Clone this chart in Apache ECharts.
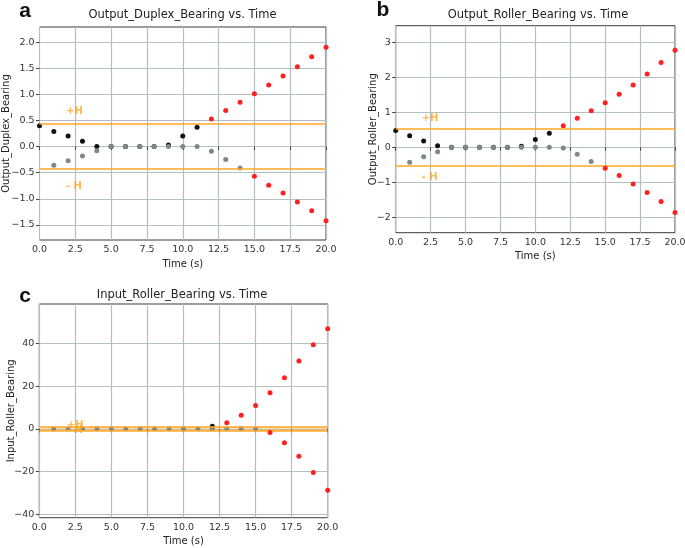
<!DOCTYPE html>
<html><head><meta charset="utf-8">
<script src="https://cdn.jsdelivr.net/npm/echarts@6/dist/echarts.min.js"></script>
<style>html,body{margin:0;padding:0;background:#fff}#c{width:685px;height:548px}</style>
</head><body><div id="c"></div>
<script>
// ---- tick labels ----
const timeTicks = [0, 2.5, 5, 7.5, 10, 12.5, 15, 17.5, 20];
const aTicks = [-1.5, -1, -0.5, 0, 0.5, 1, 1.5, 2];
const bTicks = [-2, -1, 0, 1, 2, 3];
const cTicks = [-40, -20, 0, 20, 40];

// ---- panel a: Output_Duplex_Bearing ----
const aBlack = [[0,0.40],[1,0.29],[2,0.20],[3,0.10],[4,0.00],[5,0],[6,0],[7,0],[8,0],[9,0.03],[10,0.20],[11,0.37]];
const aGray  = [[1,-0.36],[2,-0.27],[3,-0.18],[4,-0.08],[5,0],[6,0],[7,0],[8,0],[9,0],[10,0],[11,0],[12,-0.09],[13,-0.25],[14,-0.41]];
const aRed   = [[12,0.53],[13,0.69],[14,0.85],[15,1.01],[16,1.18],[17,1.35],[18,1.53],[19,1.72],[20,1.90],
                [15,-0.57],[16,-0.74],[17,-0.89],[18,-1.06],[19,-1.23],[20,-1.42]];
const aH = 0.43;
const aLabels = [[2.45, 0.67, '+H'], [2.4, -0.77, '- H']];

// ---- panel b: Output_Roller_Bearing ----
const bBlack = [[0,0.48],[1,0.33],[2,0.18],[3,0.04],[4,0],[5,0],[6,0],[7,0],[8,0],[9,0.03],[10,0.22],[11,0.40]];
const bGray  = [[1,-0.43],[2,-0.27],[3,-0.13],[4,0],[5,0],[6,0],[7,0],[8,0],[9,0],[10,0],[11,0],[12,-0.02],[13,-0.20],[14,-0.41]];
const bRed   = [[12,0.61],[13,0.83],[14,1.04],[15,1.27],[16,1.51],[17,1.78],[18,2.09],[19,2.42],[20,2.77],
                [15,-0.60],[16,-0.81],[17,-1.05],[18,-1.29],[19,-1.55],[20,-1.86]];
const bH = 0.52;
const bLabels = [[2.46, 0.81, '+H'], [2.42, -0.86, '- H']];

// ---- panel c: Input_Roller_Bearing ----
const cBlack = [[12,1.2]];
const cGray  = [[1,0],[2,0],[3,0],[4,0],[5,0],[6,0],[7,0],[8,0],[9,0],[10,0],[11,0],[12,0],[13,0],[14,0],[15,0]];
const cRed   = [[13,2.8],[14,6.3],[15,10.9],[16,16.9],[17,23.9],[18,31.7],[19,39.3],[20,46.8],
                [16,-1.7],[17,-6.5],[18,-12.9],[19,-20.4],[20,-28.7]];
const cH = 1.0;
const cLabels = [[2.5, 1.7, '+H'], [2.45, -0.6, '- H']];

const panels = [
  {title:'Output_Duplex_Bearing vs. Time', letter:'a', yName:'Output_Duplex_Bearing',
   grid:{left:39.5, top:27, width:286.5, height:213}, ymin:-1.79, ymax:2.29, ticks:aTicks, dec:1,
   black:aBlack, gray:aGray, red:aRed, H:aH, labels:aLabels, band:false, nameGap:28,
   titlePos:[182.5,15], letterPos:[25,11]},
  {title:'Output_Roller_Bearing vs. Time', letter:'b', yName:'Output_Roller_Bearing',
   grid:{left:395.7, top:25.7, width:279.3, height:207}, ymin:-2.44, ymax:3.47, ticks:bTicks, dec:0,
   black:bBlack, gray:bGray, red:bRed, H:bH, labels:bLabels, band:false, nameGap:17.5,
   titlePos:[538,15], letterPos:[383,10]},
  {title:'Input_Roller_Bearing vs. Time', letter:'c', yName:'Input_Roller_Bearing',
   grid:{left:39.3, top:304, width:288.4, height:213.7}, ymin:-41.6, ymax:58.4, ticks:cTicks, dec:0,
   black:cBlack, gray:cGray, red:cRed, H:cH, labels:cLabels, band:true, nameGap:23,
   titlePos:[182,295], letterPos:[25,296]}
];

const FONT = 'DejaVu Sans';
const ORANGE = '#ffa726';
const fmt = (v, d) => { const s = Math.abs(v).toFixed(d); return (v < 0 ? '\u2212' : '') + s; };

const grids = [], xAxes = [], yAxes = [], series = [], graphics = [];
panels.forEach((p, i) => {
  grids.push(Object.assign({show:true, borderColor:'#3a3a3a', borderWidth:1, containLabel:false, outerBoundsMode:'none'}, p.grid));
  xAxes.push({
    type:'value', gridIndex:i, min:0, max:20, interval:2.5,
    name:'Time (s)', nameLocation:'middle', nameGap:19, nameMoveOverlap:false,
    nameTextStyle:{fontFamily:FONT, fontSize:10, color:'#222'},
    axisLine:{show:false}, axisTick:{show:true, length:3.5, lineStyle:{color:'#444'}},
    axisLabel:{fontFamily:FONT, fontSize:9.5, color:'#333', margin:5, formatter:v => fmt(v,1)},
    splitLine:{show:true, lineStyle:{color:'#b3bfc1', width:1.2}}
  });
  yAxes.push({
    type:'value', gridIndex:i, min:p.ymin, max:p.ymax,
    name:p.yName, nameLocation:'middle', nameRotate:90, nameGap:p.nameGap, nameMoveOverlap:false,
    nameTextStyle:{fontFamily:FONT, fontSize:10, color:'#222'},
    axisLine:{show:false},
    axisTick:{show:true, length:3.5, customValues:p.ticks, lineStyle:{color:'#444'}},
    axisLabel:{fontFamily:FONT, fontSize:9.5, color:'#333', margin:5, customValues:p.ticks, formatter:v => fmt(v,p.dec)},
    splitLine:{show:true, lineStyle:{color:'#b3bfc1', width:1.2}}
  });
  const markLine = {silent:true, symbol:'none', label:{show:false}, animation:false,
    lineStyle:{color:ORANGE, width:1.6, type:'solid', opacity:1},
    data:[{yAxis:p.H}, {yAxis:-p.H}]};
  series.push({type:'scatter', xAxisIndex:i, yAxisIndex:i, data:p.black, symbolSize:5,
    itemStyle:{color:'#111', opacity:1}, markLine: markLine, z:3,
    markArea: p.band ? {silent:true, itemStyle:{color:'rgba(255,167,38,0.35)'}, data:[[{yAxis:-p.H},{yAxis:p.H}]]} : undefined});
  series.push({type:'scatter', xAxisIndex:i, yAxisIndex:i, data:p.gray, symbolSize:5,
    itemStyle:{color:'#7c8a86', opacity:1}, z:4});
  series.push({type:'scatter', xAxisIndex:i, yAxisIndex:i, data:p.red, symbolSize:5,
    itemStyle:{color:'#ff2020', opacity:1}, z:5});
  series.push({type:'scatter', xAxisIndex:i, yAxisIndex:i, data:p.labels, symbolSize:0, z:6, clip:false,
    label:{show:true, position:'inside', formatter:q => q.data[2], color:ORANGE,
      fontFamily:FONT, fontWeight:'bold', fontSize:10}});
  graphics.push({type:'text', x:p.titlePos[0], y:p.titlePos[1],
    style:{text:p.title, fontFamily:FONT, fontSize:11.5, fill:'#222', textAlign:'center', textVerticalAlign:'middle'}});
  graphics.push({type:'text', x:p.letterPos[0], y:p.letterPos[1],
    style:{text:p.letter, fontFamily:'Liberation Sans', fontWeight:'bold', fontSize:21, fill:'#111', textAlign:'center', textVerticalAlign:'middle'}});
});

const chart = echarts.init(document.getElementById('c'), null, {renderer:'canvas'});
chart.setOption({animation:false, grid:grids, xAxis:xAxes, yAxis:yAxes, series:series, graphic:graphics});
</script></body></html>
